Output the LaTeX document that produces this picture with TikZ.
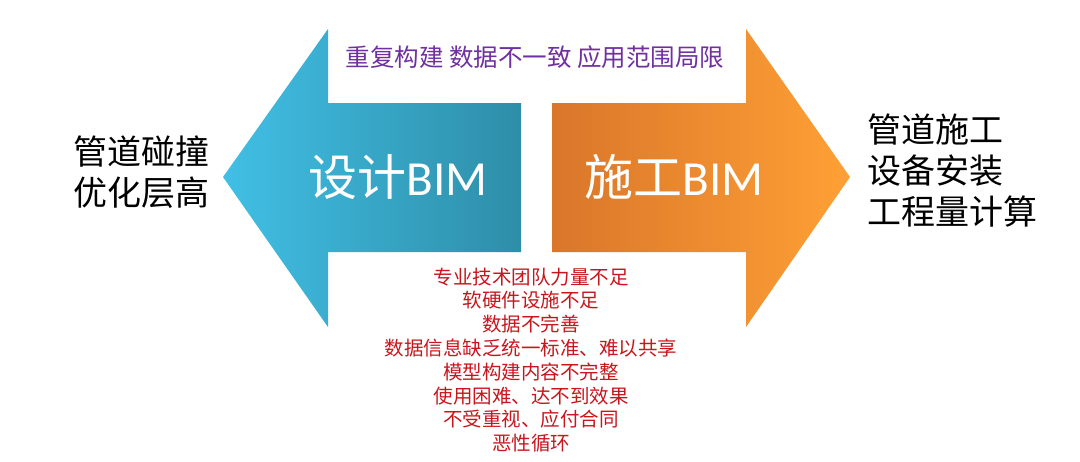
\documentclass[tikz,border=0pt]{standalone}
\usepackage{fontspec}
\newfontfamily\cjk{Noto Sans CJK SC}
\newfontfamily\latinf{Carlito}
\definecolor{blueL}{HTML}{41BFE5}
\definecolor{blueR}{HTML}{2E8EA8}
\definecolor{orgL}{HTML}{D9762A}
\definecolor{orgR}{HTML}{FFA035}
\definecolor{purp}{HTML}{7030A0}
\definecolor{redt}{HTML}{C8161D}
\tikzset{
  bim/.style={text=white,font=\fontsize{49}{56}\selectfont\cjk,inner sep=0pt},
  side/.style={text=black,font=\fontsize{34}{41}\selectfont\cjk,inner sep=0pt},
  topnote/.style={text=purp,font=\fontsize{24.5}{28}\selectfont\cjk,inner sep=0pt},
  issues/.style={text=redt,font=\fontsize{19.5}{23.8}\selectfont\cjk,inner sep=0pt,align=center}
}
\begin{document}
\begin{tikzpicture}[x=1pt,y=-1pt]
\useasboundingbox (0,0) rectangle (1080,461);
\fill[white] (0,0) rectangle (1080,461);
% left arrow
\shade[left color=blueL,right color=blueR]
  (223,177) -- (328,29) -- (328,103) -- (521,103) -- (521,252) -- (328,252) -- (328,327) -- cycle;
% right arrow
\shade[left color=orgL,right color=orgR]
  (552,103) -- (746,103) -- (746,29) -- (850,177) -- (746,327) -- (746,252) -- (552,252) -- cycle;
\node[bim] (design) at (398,177) {设计{\latinf BIM}};
\node[bim] (constr) at (674,177) {施工{\latinf BIM}};
\node[topnote] (top) at (535,57) {重复构建 数据不一致 应用范围局限};
\node[side,align=center] (leftt) at (141,172.5) {管道碰撞\\优化层高};
\node[side,align=left,anchor=west] (rightt) at (867,171) {管道施工\\设备安装\\工程量计算};
\node[issues] (probs) at (531,360) {专业技术团队力量不足\\软硬件设施不足\\数据不完善\\数据信息缺乏统一标准、难以共享\\模型构建内容不完整\\使用困难、达不到效果\\不受重视、应付合同\\恶性循环};
\end{tikzpicture}
\end{document}
